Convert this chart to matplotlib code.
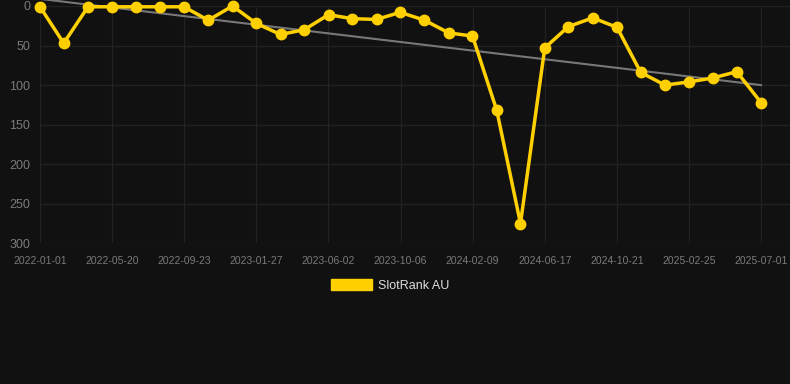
import matplotlib
matplotlib.use("Agg")
import matplotlib.pyplot as plt
import matplotlib.dates as mdates
from matplotlib.patches import Patch
import numpy as np
import pandas as pd

dates = ["2022-01-01", "2022-02-12", "2022-03-27", "2022-05-09", "2022-06-20",
         "2022-08-02", "2022-09-13", "2022-10-26", "2022-12-08", "2023-01-19",
         "2023-03-03", "2023-04-14", "2023-05-27", "2023-07-08", "2023-08-20",
         "2023-10-01", "2023-11-13", "2023-12-26", "2024-02-06", "2024-03-20",
         "2024-05-01", "2024-06-13", "2024-07-25", "2024-09-06", "2024-10-19",
         "2024-11-30", "2025-01-12", "2025-02-23", "2025-04-07", "2025-05-19",
         "2025-07-01"]
ranks = [1, 47, 1, 1, 1, 1, 1, 18, 0, 22, 36, 30, 11, 16, 17, 8, 18, 34, 38,
         132, 275, 53, 26, 15, 27, 84, 100, 96, 91, 83, 122]
trend_dates = ["2022-01-01", "2025-07-01"]
trend_values = [-9, 100]
tick_labels = ["2022-01-01", "2022-05-20", "2022-09-23", "2023-01-27", "2023-06-02",
               "2023-10-06", "2024-02-09", "2024-06-17", "2024-10-21", "2025-02-25",
               "2025-07-01"]
y_ticks = [0, 50, 100, 150, 200, 250, 300]
series_name = "SlotRank AU"

BG = "#111111"
YEL = "#FFD000"
W, H = 790, 384

fig = plt.figure(figsize=(W / 100, H / 100), dpi=100, facecolor=BG)
ax = fig.add_axes([40 / W, 1 - 243.3 / H, 750 / W, (243.3 - 6) / H])
ax.set_facecolor(BG)

x = pd.to_datetime(dates)
xt = pd.to_datetime(trend_dates)

ax.plot(xt, trend_values, color="#777777", lw=1.5, zorder=2, clip_on=False)
ax.plot(x, ranks, color=YEL, lw=2.5, marker="o", ms=7.5, zorder=3, clip_on=False)

start = mdates.date2num(pd.Timestamp(dates[0]))
end = mdates.date2num(pd.Timestamp(dates[-1]))
span = end - start
ax.set_xlim(start, start + span * 750 / 721)
ax.set_xticks(np.linspace(start, end, len(tick_labels)))
ax.set_xticklabels(tick_labels)

ax.set_ylim(300, 0)
ax.set_yticks(y_ticks)

ax.grid(True, color="#222222", lw=0.9)
for s in ax.spines.values():
    s.set_visible(False)
ax.tick_params(axis="x", length=0, pad=9, labelsize=7.5, labelcolor="#7a7a7a")
ax.tick_params(axis="y", length=0, pad=7, labelsize=9, labelcolor="#7a7a7a")
for lab in ax.get_xticklabels() + ax.get_yticklabels():
    lab.set_fontfamily("Liberation Sans")

leg = fig.legend(handles=[Patch(facecolor=YEL, edgecolor=YEL)], labels=[series_name],
                 loc="center", bbox_to_anchor=(390 / W, 1 - 285.5 / H), frameon=False,
                 handlelength=3.3, handleheight=1.0, handletextpad=0.5,
                 prop={"family": "Liberation Sans", "size": 9})
for t in leg.get_texts():
    t.set_color("#dddddd")

fig.savefig("out.png", dpi=100, facecolor=BG)
